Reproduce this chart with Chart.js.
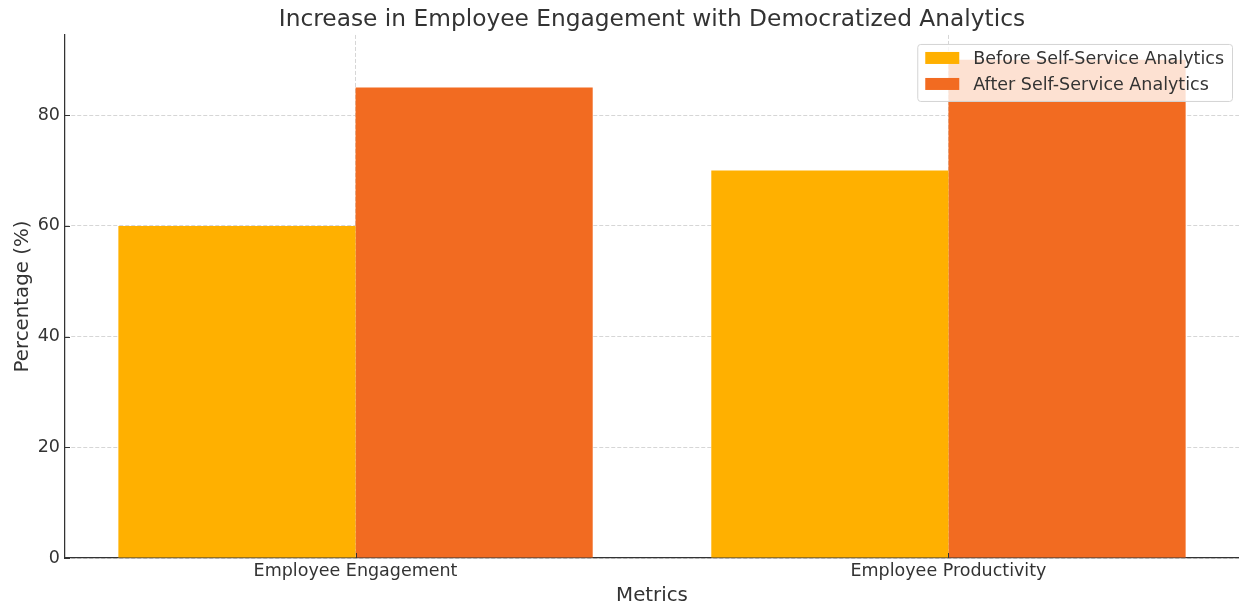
<!DOCTYPE html>
<html>
<head>
<meta charset="utf-8">
<script src="https://cdn.jsdelivr.net/npm/chart.js@4"></script>
<style>
  html, body { margin: 0; padding: 0; background: #fff; }
  canvas { display: block; }
</style>
</head>
<body>
<canvas id="myChart" width="1239" height="609"></canvas>
<script>
// data
const categories = ["Employee Engagement", "Employee Productivity"];
const seriesLabels = ["Before Self-Service Analytics", "After Self-Service Analytics"];
const beforeValues = [60, 70];
const afterValues = [85, 90];
const yTicks = [0, 20, 40, 60, 80];

const colors = ["#FFB000", "#F26B21"];
const textColor = "#333333";
const gridColor = "#cccccc";

Chart.defaults.font.family = "'DejaVu Sans', sans-serif";
Chart.defaults.color = textColor;

// little inward tick marks + legend box, drawn on top like matplotlib
const overlayPlugin = {
  id: "overlay",
  afterDraw(chart) {
    const ctx = chart.ctx;
    const area = chart.chartArea;
    const xs = chart.scales.x;
    const ys = chart.scales.y;

    ctx.save();
    ctx.strokeStyle = "#333333";
    ctx.lineWidth = 1;
    ctx.beginPath();
    yTicks.forEach((v) => {
      const y = Math.round(ys.getPixelForValue(v)) + 0.5;
      ctx.moveTo(area.left, y);
      ctx.lineTo(area.left + 5, y);
    });
    categories.forEach((c, i) => {
      const x = Math.round(xs.getPixelForValue(i)) + 0.5;
      ctx.moveTo(x, area.bottom);
      ctx.lineTo(x, area.bottom - 5);
    });
    ctx.stroke();

    // legend (upper right)
    ctx.font = "17.5px 'DejaVu Sans', sans-serif";
    const textW = Math.max(...seriesLabels.map((t) => ctx.measureText(t).width));
    const boxW = 8 + 34 + 14 + textW + 8;
    const boxH = 57;
    const right = area.right - 7;
    const left = right - boxW;
    const top = area.top + 9;
    ctx.beginPath();
    ctx.roundRect(left + 0.5, top + 0.5, boxW, boxH, 3);
    ctx.fillStyle = "rgba(255,255,255,0.8)";
    ctx.fill();
    ctx.strokeStyle = "#d4d4d4";
    ctx.stroke();

    ctx.textBaseline = "middle";
    ctx.textAlign = "left";
    chart.data.datasets.forEach((ds, i) => {
      const cy = top + 14 + i * 26;
      ctx.fillStyle = ds.backgroundColor;
      ctx.fillRect(left + 8, cy - 6, 34, 12);
      ctx.fillStyle = textColor;
      ctx.fillText(ds.label, left + 8 + 34 + 14, cy + 1);
    });
    ctx.restore();
  }
};

const ctx = document.getElementById("myChart").getContext("2d");
const myChart = new Chart(ctx, {
  type: "bar",
  data: {
    datasets: [
      {
        label: seriesLabels[0],
        data: categories.map((c, i) => ({ x: i, y: beforeValues[i] })),
        backgroundColor: colors[0],
        borderWidth: 0,
      },
      {
        label: seriesLabels[1],
        data: categories.map((c, i) => ({ x: i, y: afterValues[i] })),
        backgroundColor: colors[1],
        borderWidth: 0,
      },
    ],
  },
  options: {
    responsive: false,
    devicePixelRatio: 1,
    animation: false,
    layout: { padding: 0 },
    datasets: {
      bar: { categoryPercentage: 0.8, barPercentage: 1.0 },
    },
    scales: {
      x: {
        type: "linear",
        min: -0.49,
        max: 1.49,
        offset: false,
        z: 1,
        afterBuildTicks: (scale) => {
          scale.ticks = categories.map((c, i) => ({ value: i }));
        },
        afterFit: (scale) => {
          scale.height = 51;
        },
        ticks: {
          callback: (value) => categories[value],
          font: { size: 17.5 },
          color: textColor,
          padding: 3,
          autoSkip: false,
          maxRotation: 0,
        },
        grid: {
          offset: false,
          color: gridColor,
          lineWidth: 0.8,
          drawTicks: false,
        },
        border: { color: "#333333", width: 1.25, dash: [4, 2] },
        title: {
          display: true,
          text: "Metrics",
          font: { size: 19.8 },
          color: textColor,
          padding: { top: 0, bottom: 1.6 },
        },
      },
      y: {
        min: 0,
        max: 94.5,
        z: 1,
        afterFit: (scale) => {
          scale.width = 65;
        },
        afterBuildTicks: (scale) => {
          scale.ticks = yTicks.map((v) => ({ value: v }));
        },
        ticks: {
          font: { size: 17.5 },
          color: textColor,
          padding: 5,
        },
        grid: {
          color: gridColor,
          lineWidth: 0.8,
          drawTicks: false,
        },
        border: { color: "#333333", width: 1.25, dash: [4, 2] },
        title: {
          display: true,
          text: "Percentage (%)",
          font: { size: 19.8 },
          color: textColor,
          padding: { top: 11, bottom: 0 },
        },
      },
    },
    plugins: {
      legend: { display: false },
      tooltip: { enabled: false },
      title: {
        display: true,
        fullSize: false,
        text: "Increase in Employee Engagement with Democratized Analytics",
        font: { size: 23.3, weight: "normal" },
        color: textColor,
        padding: { top: 6, bottom: 1 },
      },
    },
  },
  plugins: [overlayPlugin],
});
</script>
</body>
</html>
